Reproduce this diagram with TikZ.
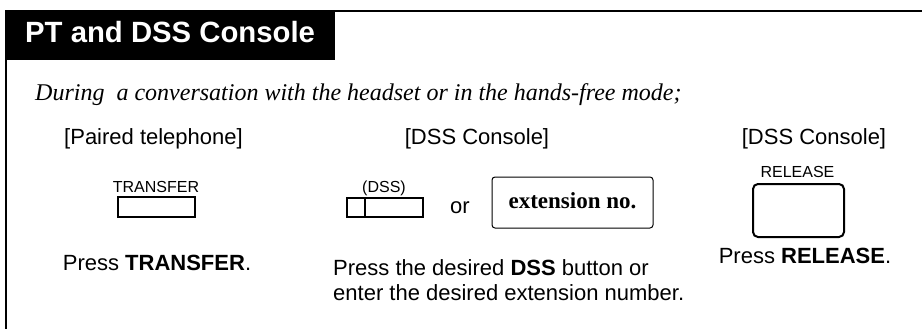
\documentclass[tikz,border=0pt]{standalone}
\usepackage{fontspec}
\setmainfont{Liberation Serif}
\setsansfont{Liberation Sans}
\usetikzlibrary{positioning}

\begin{document}
\begin{tikzpicture}[x=1pt, y=-1pt,
  caption/.style={font=\sffamily\fontsize{22}{26}\selectfont, inner sep=0pt, anchor=base},
  keyname/.style={font=\sffamily\fontsize{16}{19}\selectfont, inner sep=0pt, anchor=base},
  keybox/.style={draw, line width=2pt}]

  \useasboundingbox (0,0) rectangle (922,329);

  % --- frame and title band ---
  \draw[line width=2pt] (922,11) -- (6,11) -- (6,329);
  \fill (5,10) rectangle (335,60);
  \node[anchor=base west, inner sep=0pt, text=white,
    font=\sffamily\bfseries\fontsize{29.3}{34}\selectfont] (title) at (25,43)
    {PT and DSS Console};

  % --- situation line ---
  \node[anchor=base west, inner sep=0pt, font=\itshape\fontsize{24}{28}\selectfont]
    (situation) at (35,100)
    {During\ \ a conversation with the headset or in the hands-free mode;};

  % --- column headings ---
  \node[caption] (pthead) at (153.5,145) {[Paired telephone]};
  \node[caption] (dsshead) at (477,145) {[DSS Console]};
  \node[caption] (relhead) at (814,145) {[DSS Console]};

  % --- paired telephone: TRANSFER key ---
  \node[keyname] (transname) at (156,192) {TRANSFER};
  \draw[keybox] (118,197) rectangle (195,217);

  % --- DSS key or extension number ---
  \node[keyname] (dssname) at (384,192) {(DSS)};
  \draw[keybox] (347,198) rectangle (423,217);
  \draw[line width=2pt] (365,198) -- (365,217);
  \node[caption] (or) at (460,213) {or};
  \draw[rounded corners=3pt, line width=1pt] (492,177) rectangle (653,228);
  \node[anchor=base, inner sep=0pt, font=\bfseries\fontsize{23}{27}\selectfont]
    (extno) at (572.5,208) {extension no.};

  % --- RELEASE key ---
  \node[keyname] (relname) at (797.5,177) {RELEASE};
  \draw[keybox, rounded corners=5pt] (753,184) rectangle (844,237);

  % --- instructions ---
  \node[caption] (presstrans) at (157,270) {Press \textbf{TRANSFER}.};
  \node[caption, anchor=base west] (pressdss) at (333,275)
    {Press the desired \textbf{DSS} button or};
  \node[caption, anchor=base west] (enterext) at (333,300)
    {enter the desired extension number.};
  \node[caption] (pressrel) at (805,263) {Press \textbf{RELEASE}.};

\end{tikzpicture}
\end{document}
